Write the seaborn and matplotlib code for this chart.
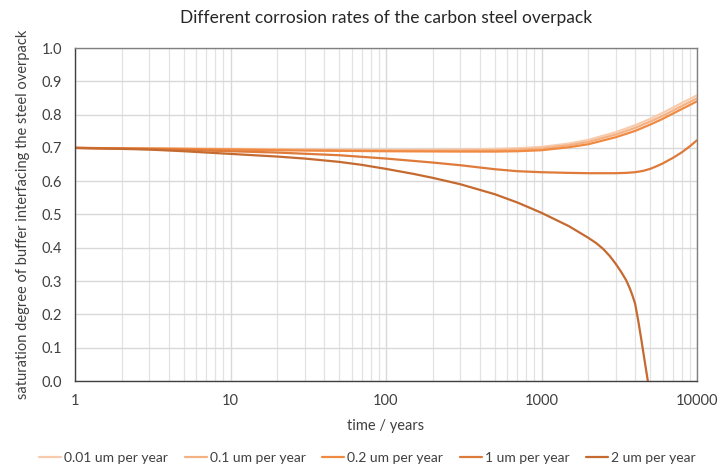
import numpy as np
import pandas as pd
import matplotlib
matplotlib.use("Agg")
import matplotlib.pyplot as plt
from matplotlib.ticker import LogLocator, FixedLocator, NullFormatter
import seaborn as sns

# ---- data ----
series_names = ["0.01 um per year", "0.1 um per year", "0.2 um per year",
                "1 um per year", "2 um per year"]

t_upper = [1, 3, 10, 30, 100, 300, 500, 700, 1000, 1500, 2000, 3000, 4000, 5000, 6000, 7000, 8000, 9000, 10000]
s_001 = [0.700, 0.699, 0.697, 0.695, 0.694, 0.695, 0.697, 0.699, 0.703, 0.713, 0.724, 0.747, 0.768, 0.787, 0.805,
         0.821, 0.835, 0.847, 0.858]
s_01 = [0.700, 0.698, 0.696, 0.694, 0.692, 0.692, 0.693, 0.695, 0.698, 0.708, 0.718, 0.740, 0.760, 0.779, 0.796,
        0.812, 0.826, 0.838, 0.849]
s_02 = [0.700, 0.698, 0.695, 0.692, 0.690, 0.689, 0.689, 0.690, 0.693, 0.702, 0.711, 0.732, 0.751, 0.770, 0.787,
        0.803, 0.817, 0.829, 0.840]

t_1 = [1, 2, 5, 10, 20, 50, 100, 200, 300, 500, 700, 1000, 1500, 2000, 3000, 3500, 4000, 4500, 5000, 5500, 6000,
       7000, 8000, 9000, 10000]
s_1 = [0.700, 0.698, 0.694, 0.690, 0.686, 0.678, 0.668, 0.656, 0.648, 0.636, 0.630, 0.627, 0.625, 0.624, 0.624,
       0.625, 0.627, 0.631, 0.637, 0.645, 0.653, 0.670, 0.687, 0.705, 0.723]

t_2 = [1, 2, 3, 5, 10, 20, 30, 50, 70, 100, 150, 200, 300, 500, 700, 1000, 1500, 2000, 2250, 2500, 2750, 3000,
       3250, 3500, 3700, 3850, 4000, 4200, 4400, 4600, 4830]
s_2 = [0.700, 0.697, 0.695, 0.690, 0.682, 0.674, 0.668, 0.658, 0.649, 0.637, 0.622, 0.610, 0.591, 0.561, 0.536,
       0.505, 0.465, 0.430, 0.414, 0.396, 0.375, 0.352, 0.328, 0.303, 0.278, 0.256, 0.232, 0.178, 0.120, 0.062,
       0.000]

colors = ["#F8CBAD", "#F4B183", "#F08A42", "#DE7A3A", "#C56A30"]

title = "Different corrosion rates of the carbon steel overpack"
xlabel = "time / years"
ylabel = "saturation degree of buffer interfacing the steel overpack"
xticks = [1, 10, 100, 1000, 10000]
xticklabels = ["1", "10", "100", "1000", "10000"]
yticks = [0.0, 0.1, 0.2, 0.3, 0.4, 0.5, 0.6, 0.7, 0.8, 0.9, 1.0]

frames = []
for name, tt, vv in zip(series_names,
                        [t_upper, t_upper, t_upper, t_1, t_2],
                        [s_001, s_01, s_02, s_1, s_2]):
    frames.append(pd.DataFrame({"time": tt, "value": vv, "series": name}))
df = pd.concat(frames, ignore_index=True)

sns.set_style("white")
plt.rcParams["font.family"] = ["Lato", "DejaVu Sans"]

fig = plt.figure(figsize=(7.2, 4.65), dpi=100)
ax = fig.add_axes([75/720, 1 - 381/465, (697 - 75)/720, (381 - 48)/465])

sns.lineplot(data=df, x="time", y="value", hue="series", hue_order=series_names,
             palette=colors, linewidth=1.6, ax=ax, sort=False, legend=True)

ax.set_xscale("log")
ax.set_xlim(1, 10000)
ax.set_ylim(0, 1.0)
ax.xaxis.set_major_locator(FixedLocator(xticks))
ax.set_xticklabels(xticklabels)
ax.xaxis.set_minor_locator(LogLocator(base=10, subs=np.arange(2, 10)))
ax.xaxis.set_minor_formatter(NullFormatter())
ax.set_yticks(yticks)
ax.set_yticklabels([f"{v:.1f}" for v in yticks])

ax.grid(True, which="major", color="#d9d9d9", linewidth=1.0)
ax.grid(True, which="minor", axis="x", color="#e3e3e3", linewidth=0.9)
ax.set_axisbelow(True)

for side in ["left", "bottom"]:
    ax.spines[side].set_color("#404040")
    ax.spines[side].set_linewidth(1.0)
for side in ["top", "right"]:
    ax.spines[side].set_color("#808080")
    ax.spines[side].set_linewidth(1.0)

ax.tick_params(axis="both", which="major", direction="inout", length=6, width=1,
               color="#404040", labelsize=10.5, labelcolor="#404040", pad=6)
ax.tick_params(axis="x", which="minor", direction="in", length=3, width=1, color="#404040")
ax.tick_params(axis="y", which="major", length=7)

ax.set_xlabel(xlabel, fontsize=10.5, color="#404040", labelpad=8)
ax.set_ylabel(ylabel, fontsize=10.5, color="#404040", labelpad=8)
ax.set_title(title, fontsize=12.5, color="#262626", pad=18)

handles, labels = ax.get_legend_handles_labels()
ax.legend(handles, labels, loc="upper center", bbox_to_anchor=(0.47, -0.175),
          ncol=5, frameon=False, fontsize=10, handlelength=1.6, handletextpad=0.2,
          columnspacing=1.2, labelcolor="#404040")

fig.savefig("out.png", dpi=100, facecolor="white")
